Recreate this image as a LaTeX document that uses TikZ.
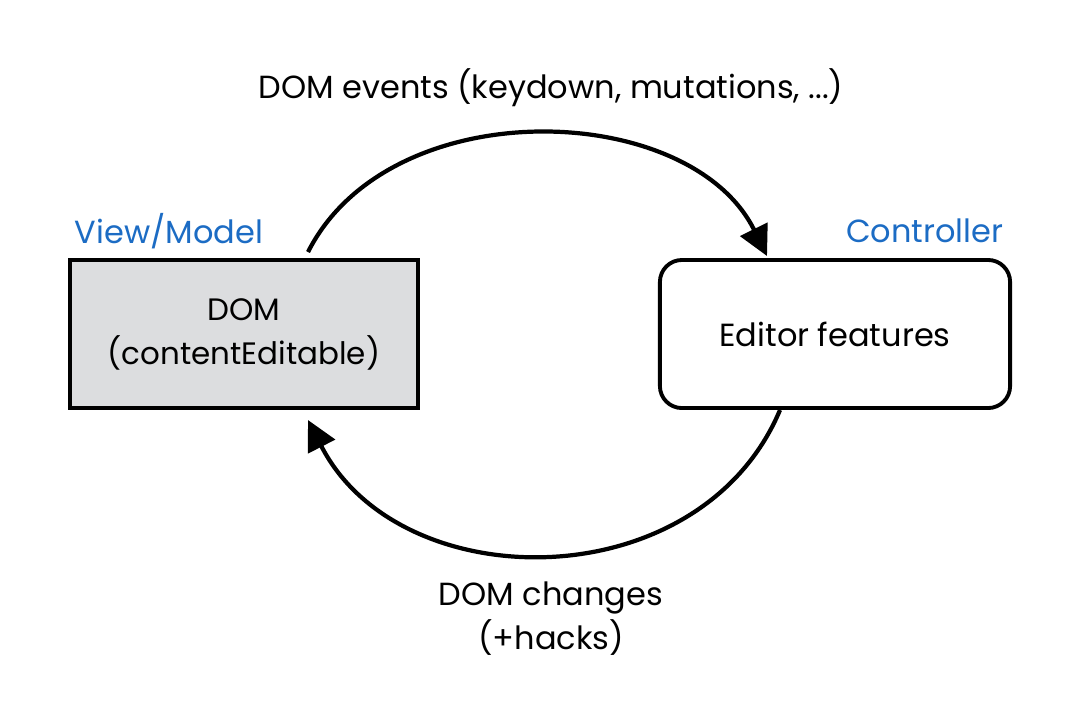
\documentclass[tikz,border=0pt]{standalone}
\usepackage{fontspec}
\setmainfont{Poppins}
\usetikzlibrary{arrows.meta}
\definecolor{labelblue}{RGB}{28,108,196}
\definecolor{boxgray}{RGB}{220,221,223}
\tikzset{
  txt/.style={font=\fontsize{9.1}{12.5}\selectfont, text=black, align=center, inner sep=0pt},
  role/.style={font=\fontsize{9.1}{12.5}\selectfont, text=labelblue, inner sep=0pt},
  dombox/.style={draw=black, line width=1.1pt, fill=boxgray, minimum width=3.48cm, minimum height=1.48cm, inner sep=0pt, font=\fontsize{8.8}{12.5}\selectfont, align=center},
  featbox/.style={draw=black, line width=1.1pt, fill=white, rounded corners=0.22cm, minimum width=3.5cm, minimum height=1.48cm, inner sep=0pt, font=\fontsize{9.1}{12.5}\selectfont, align=center},
  flow/.style={line width=1.2pt, -{Triangle[length=8.5pt,width=8.5pt]}},
}
\begin{document}
\begin{tikzpicture}[x=0.01cm,y=-0.01cm]
\useasboundingbox (0,0) rectangle (1088,714);
\node[dombox] (dom) at (244,334) {DOM\\(contentEditable)};
\node[featbox] (ed) at (835,334) {Editor features};
\node[role, anchor=west] (vm) at (74,231) {View/Model};
\node[role, anchor=east] (ctl) at (1004,231) {Controller};
\node[txt] (evt) at (551,88) {DOM events (keydown, mutations, ...)};
\node[txt] (chg) at (551,619) {DOM changes\\(+hacks)};
\coordinate (t1) at (308,252);
\coordinate (t2) at (767,256);
\coordinate (b1) at (780,410);
\coordinate (b2) at (308,420);
\draw[flow] (t1) .. controls (390,90) and (690,100) .. (t2);
\draw[flow] (b1) .. controls (700,600) and (400,600) .. (b2);
\end{tikzpicture}
\end{document}
